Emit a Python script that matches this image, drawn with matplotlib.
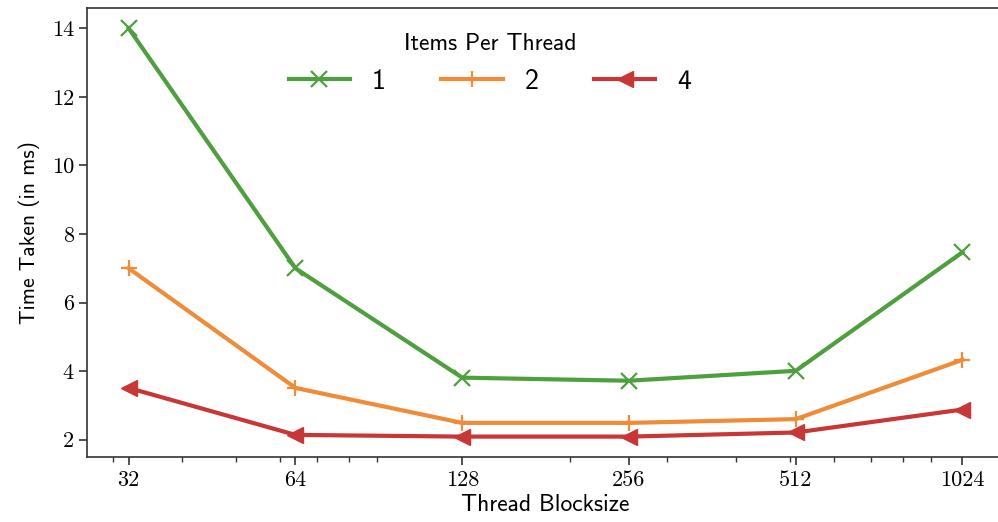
import matplotlib
matplotlib.use("Agg")
import matplotlib.pyplot as plt
from matplotlib.ticker import NullFormatter

# --- data ---
block_sizes = [32, 64, 128, 256, 512, 1024]
items_1 = [14.0, 7.0, 3.81, 3.72, 4.01, 7.47]
items_2 = [7.0, 3.51, 2.49, 2.49, 2.60, 4.33]
items_4 = [3.51, 2.14, 2.09, 2.09, 2.21, 2.88]
y_ticks = [2, 4, 6, 8, 10, 12, 14]

SANS = "cmss10"
SERIF = "cmr10"

fig = plt.figure(figsize=(9.98, 5.22), dpi=100)
ax = fig.add_axes([0.0872, 0.1245, 0.919, 0.8602])

ax.plot(block_sizes, items_1, color="#4e9f3d", lw=3, marker="x", ms=11, mew=1.6, label="1")
ax.plot(block_sizes, items_2, color="#f08c38", lw=3, marker="+", ms=12, mew=1.6, label="2")
ax.plot(block_sizes, items_4, color="#c93636", lw=3, marker="<", ms=11, label="4")

ax.set_xscale("log")
ax.set_xticks(block_sizes, labels=[str(b) for b in block_sizes])
ax.xaxis.set_minor_formatter(NullFormatter())
ax.set_yticks(y_ticks, labels=[str(t) for t in y_ticks])

for lbl in ax.get_xticklabels() + ax.get_yticklabels():
    lbl.set_fontfamily(SERIF)
    lbl.set_fontsize(16)

ax.tick_params(which="major", length=5.5, width=1.2, color="#333333", pad=4)
ax.tick_params(which="minor", length=3.5, width=1.0, color="#333333")
ax.spines["right"].set_visible(False)
for sp in ax.spines.values():
    sp.set_linewidth(1.2)
    sp.set_color("#333333")

ax.set_xlabel("Thread Blocksize", fontfamily=SANS, fontsize=17, labelpad=3)
ax.set_ylabel("Time Taken (in ms)", fontfamily=SANS, fontsize=15.5, labelpad=8)

leg = ax.legend(title="Items Per Thread", ncol=3, frameon=False,
                loc="upper center", bbox_to_anchor=(0.491, 0.985),
                bbox_transform=fig.transFigure,
                prop={"family": SANS, "size": 20},
                handlelength=2.2, columnspacing=2.0, handletextpad=0.8,
                labelspacing=0.5)
leg.get_title().set_fontfamily(SANS)
leg.get_title().set_fontsize(17)

fig.savefig("out.png", dpi=100)
